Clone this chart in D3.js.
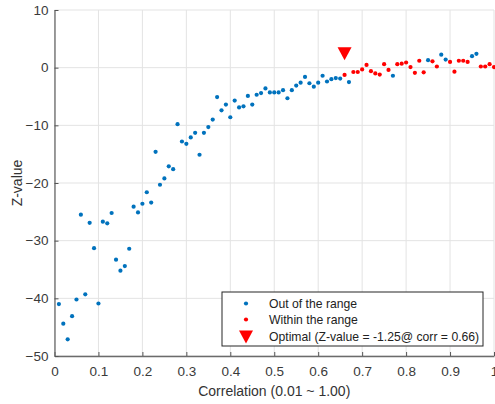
<!DOCTYPE html>
<html>
<head>
<meta charset="utf-8">
<script src="https://cdn.jsdelivr.net/npm/d3@7"></script>
<style>
  body { margin: 0; background: #fff; }
  svg { display: block; font-family: "Liberation Sans", Arial, sans-serif; }
</style>
</head>
<body>
<div id="container"></div>
<script>
// data
const outCorr = [0.01, 0.02, 0.03, 0.04, 0.05, 0.06, 0.07, 0.08, 0.09, 0.10,
  0.11, 0.12, 0.13, 0.14, 0.15, 0.16, 0.17, 0.18, 0.19, 0.20,
  0.21, 0.22, 0.23, 0.24, 0.25, 0.26, 0.27, 0.28, 0.29, 0.30,
  0.31, 0.32, 0.33, 0.34, 0.35, 0.36, 0.37, 0.38, 0.39, 0.40,
  0.41, 0.42, 0.43, 0.44, 0.45, 0.46, 0.47, 0.48, 0.49, 0.50,
  0.51, 0.52, 0.53, 0.54, 0.55, 0.56, 0.57, 0.58, 0.59, 0.60,
  0.61, 0.62, 0.63, 0.64, 0.65, 0.67, 0.77, 0.85, 0.88, 0.89, 0.95, 0.96]
const outZ = [-41.0, -44.4, -47.1, -43.1, -40.2, -25.5, -39.3, -26.9, -31.3, -40.9,
  -26.7, -27.0, -25.2, -33.3, -35.2, -34.4, -31.4, -24.1, -25.1, -23.6,
  -21.6, -23.4, -14.6, -20.3, -19.2, -17.1, -17.6, -9.8, -12.8, -13.2,
  -12.1, -11.3, -15.1, -11.3, -10.3, -9.0, -5.1, -7.4, -6.4, -8.6,
  -5.7, -6.9, -6.7, -4.9, -6.4, -4.7, -4.4, -3.6, -4.3, -4.3,
  -4.3, -3.9, -5.3, -3.9, -3.1, -2.6, -1.6, -2.7, -3.3, -2.6,
  -1.4, -2.4, -2.0, -1.8, -1.9, -2.5, -1.4, 1.3, 2.25, 1.4, 2.0, 2.4]

const inCorr = [0.66, 0.68, 0.69, 0.70, 0.71, 0.72, 0.73, 0.74, 0.75, 0.76,
  0.78, 0.79, 0.80, 0.81, 0.82, 0.83, 0.84, 0.86, 0.87, 0.90,
  0.91, 0.92, 0.93, 0.94, 0.97, 0.98, 0.99, 1.00]
const inZ = [-1.25, -0.75, -0.75, -0.3, 0.47, -0.6, -1.0, -1.2, 0.6, -0.4,
  0.6, 0.7, 0.9, 0.1, -0.9, 1.2, -0.8, 1.1, 0.2, 1.0,
  -0.7, 1.2, 1.2, 1.0, 0.2, 0.2, 0.6, 0.1]

const optCorr = 0.66
const optMarkerZ = 2.5   // triangle drawn above the optimal point

const xTicks = [0, 0.1, 0.2, 0.3, 0.4, 0.5, 0.6, 0.7, 0.8, 0.9, 1]
const yTicks = [10, 0, -10, -20, -30, -40, -50]
const legendLabels = ["Out of the range", "Within the range", "Optimal (Z-value = -1.25@ corr = 0.66)"]

const W = 495, H = 404
const m = { top: 10, bottom: 48, left: 54.5, right: 1 }

const svg = d3.select("#container").append("svg")
  .attr("width", W).attr("height", H)

const x = d3.scaleLinear().domain([0, 1]).range([m.left, W - m.right])
const y = d3.scaleLinear().domain([-50, 10]).range([H - m.bottom, m.top])

// grid
svg.append("g").selectAll("line.gx").data(xTicks).join("line")
  .attr("x1", d => x(d)).attr("x2", d => x(d))
  .attr("y1", y(-50)).attr("y2", y(10))
  .attr("stroke", "#e3e3e3").attr("stroke-width", 1)
svg.append("g").selectAll("line.gy").data(yTicks).join("line")
  .attr("y1", d => y(d)).attr("y2", d => y(d))
  .attr("x1", x(0)).attr("x2", x(1))
  .attr("stroke", "#e3e3e3").attr("stroke-width", 1)

// axes
const xAxis = svg.append("g")
  .attr("transform", `translate(0,${y(-50)})`)
  .call(d3.axisBottom(x).tickValues(xTicks).tickSizeInner(-4).tickSizeOuter(0).tickPadding(10)
    .tickFormat(d => d === 0 || d === 1 ? d3.format("d")(d) : d3.format(".1f")(d)))
const yAxis = svg.append("g")
  .attr("transform", `translate(${x(0)},0)`)
  .call(d3.axisLeft(y).tickValues(yTicks).tickSizeInner(-4).tickSizeOuter(0).tickPadding(6))

for (const a of [xAxis, yAxis]) {
  a.select(".domain").attr("stroke", "#6b6b6b").attr("stroke-width", 1.3)
  a.selectAll(".tick line").attr("stroke", "#555")
  a.selectAll(".tick text").attr("fill", "#3a3a3a").style("font-size", "13.5px")
  a.attr("font-family", null)
}

// axis labels
svg.append("text")
  .attr("x", (x(0) + x(1)) / 2).attr("y", 396)
  .attr("text-anchor", "middle").attr("fill", "#333")
  .style("font-size", "14px")
  .text("Correlation (0.01 ~ 1.00)")
svg.append("text")
  .attr("transform", `translate(22,${(y(-50) + y(10)) / 2}) rotate(-90)`)
  .attr("text-anchor", "middle").attr("fill", "#333")
  .style("font-size", "14px")
  .text("Z-value")

// points
svg.append("g").selectAll("circle").data(d3.zip(outCorr, outZ)).join("circle")
  .attr("cx", d => x(d[0])).attr("cy", d => y(d[1]))
  .attr("r", 2.1).attr("fill", "#0072BD")
svg.append("g").selectAll("circle").data(d3.zip(inCorr, inZ)).join("circle")
  .attr("cx", d => x(d[0])).attr("cy", d => y(d[1]))
  .attr("r", 2.1).attr("fill", "#FF0000")

const tri = "M-7,-6L7,-6L0,7Z"
svg.append("path")
  .attr("d", tri)
  .attr("transform", `translate(${x(optCorr)},${y(optMarkerZ)})`)
  .attr("fill", "#FF0000")

// legend
const lg = svg.append("g")
lg.append("rect")
  .attr("x", 222).attr("y", 292).attr("width", 261).attr("height", 54)
  .attr("fill", "#fff").attr("stroke", "#262626").attr("stroke-width", 1)
const rows = [303.5, 319.5, 336.5]
lg.append("circle").attr("cx", 246).attr("cy", rows[0]).attr("r", 2.1).attr("fill", "#0072BD")
lg.append("circle").attr("cx", 246).attr("cy", rows[1]).attr("r", 2.1).attr("fill", "#FF0000")
lg.append("path").attr("d", tri).attr("transform", `translate(246,${rows[2]})`).attr("fill", "#FF0000")
lg.selectAll("text").data(legendLabels).join("text")
  .attr("x", 269).attr("y", (d, i) => rows[i] + 4.3)
  .attr("fill", "#222").style("font-size", "12.2px")
  .text(d => d)
</script>
</body>
</html>
